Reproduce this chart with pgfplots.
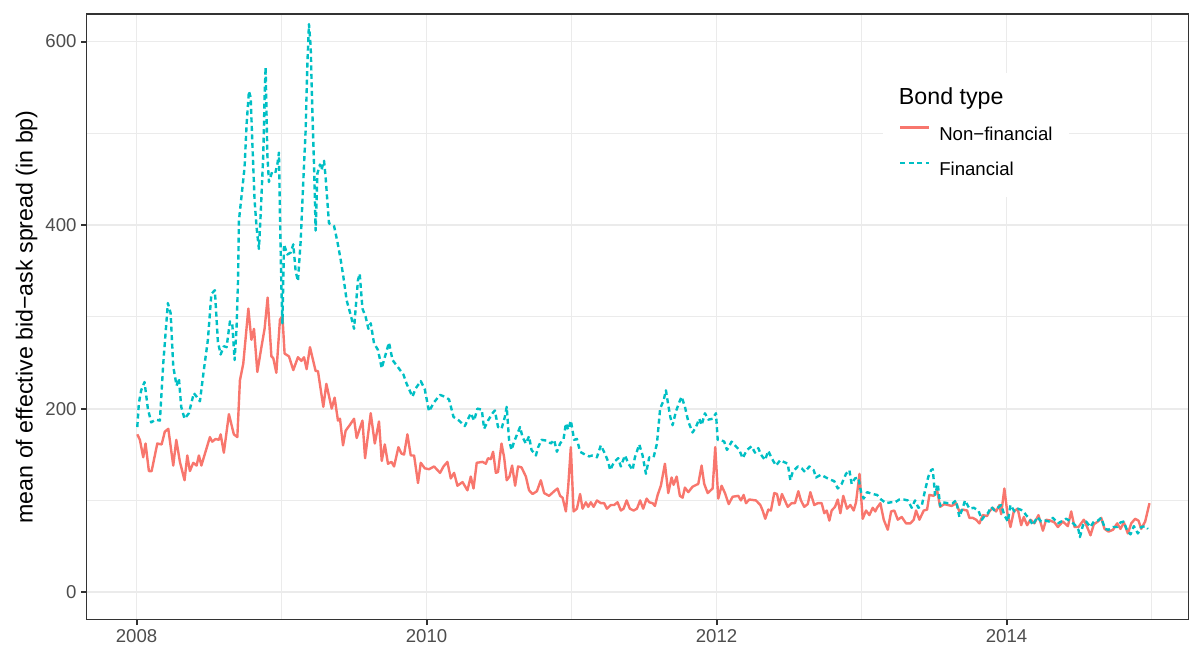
\documentclass[border=0pt]{standalone}
\usepackage{fontspec}
\setmainfont{Liberation Sans}
\usepackage{pgfplots}
\usepackage{pgfplotstable}
\pgfplotsset{compat=1.18}
\definecolor{nonfin}{HTML}{F8766D}
\definecolor{fin}{HTML}{00BFC4}
\definecolor{grid92}{HTML}{EBEBEB}
\definecolor{grey20}{HTML}{333333}
\definecolor{grey30}{HTML}{4D4D4D}

\pgfplotstableread{
x y
2008.005 172
2008.023 166
2008.046 147
2008.062 162
2008.085 132
2008.104 132
2008.143 162
2008.173 161
2008.195 175
2008.219 178
2008.253 138
2008.274 166
2008.299 142
2008.331 122
2008.350 149
2008.368 132
2008.391 141
2008.414 138
2008.430 149
2008.447 138
2008.506 169
2008.522 164
2008.545 167
2008.568 166
2008.580 172
2008.602 152
2008.637 194
2008.671 172
2008.695 169
2008.713 231
2008.736 249
2008.771 309
2008.792 275
2008.810 287
2008.833 240
2008.861 267
2008.883 287
2008.904 321
2008.930 257
2008.943 255
2008.964 239
2008.989 297
2009.006 301
2009.021 260
2009.051 257
2009.081 242
2009.113 256
2009.137 252
2009.155 256
2009.173 243
2009.196 267
2009.235 241
2009.251 241
2009.288 202
2009.309 227
2009.346 200
2009.366 212
2009.389 187
2009.403 189
2009.424 160
2009.442 176
2009.470 182
2009.500 189
2009.518 168
2009.558 187
2009.576 146
2009.615 195
2009.643 162
2009.672 186
2009.691 143
2009.712 161
2009.734 140
2009.758 142
2009.776 137
2009.806 158
2009.827 151
2009.845 150
2009.868 172
2009.891 149
2009.914 149
2009.941 119
2009.960 141
2009.988 135
2010.017 134
2010.052 137
2010.093 130
2010.117 137
2010.144 142
2010.167 124
2010.190 130
2010.213 116
2010.248 120
2010.282 111
2010.305 126
2010.324 113
2010.346 141
2010.386 142
2010.409 140
2010.424 146
2010.443 145
2010.459 153
2010.478 130
2010.493 131
2010.517 162
2010.535 147
2010.553 122
2010.572 126
2010.590 138
2010.611 116
2010.631 137
2010.655 136
2010.685 126
2010.707 111
2010.731 107
2010.761 110
2010.788 122
2010.811 108
2010.845 105
2010.880 110
2010.903 113
2010.921 105
2010.938 103
2010.961 88
2010.977 115
2010.995 158
2011.014 88
2011.037 91
2011.059 107
2011.076 91
2011.099 98
2011.115 93
2011.133 98
2011.152 93
2011.175 100
2011.202 97
2011.225 97
2011.244 91
2011.271 95
2011.294 95
2011.317 98
2011.340 89
2011.359 91
2011.380 100
2011.402 91
2011.428 89
2011.451 91
2011.473 100
2011.494 91
2011.518 102
2011.536 98
2011.559 97
2011.575 94
2011.594 106
2011.616 116
2011.644 140
2011.667 108
2011.690 125
2011.704 117
2011.725 126
2011.747 105
2011.766 103
2011.782 114
2011.805 109
2011.835 115
2011.874 118
2011.897 138
2011.915 118
2011.939 108
2011.973 113
2011.991 158
2012.012 102
2012.035 116
2012.058 108
2012.084 96
2012.111 104
2012.150 105
2012.168 100
2012.187 106
2012.203 97
2012.226 101
2012.272 100
2012.302 95
2012.318 89
2012.336 80
2012.357 90
2012.375 89
2012.398 108
2012.417 107
2012.433 95
2012.451 107
2012.491 93
2012.518 97
2012.541 97
2012.564 110
2012.582 100
2012.605 93
2012.629 96
2012.647 109
2012.674 95
2012.698 97
2012.725 97
2012.743 86
2012.760 89
2012.778 78
2012.794 89
2012.817 93
2012.836 101
2012.854 86
2012.874 105
2012.900 91
2012.923 95
2012.946 89
2012.962 98
2012.986 129
2013.008 80
2013.031 89
2013.054 84
2013.077 92
2013.095 88
2013.107 92
2013.130 97
2013.153 79
2013.181 68
2013.204 88
2013.226 89
2013.250 79
2013.277 82
2013.307 75
2013.337 75
2013.360 79
2013.376 89
2013.399 79
2013.429 89
2013.452 90
2013.468 106
2013.498 105
2013.521 111
2013.542 93
2013.571 96
2013.595 95
2013.622 94
2013.652 97
2013.675 88
2013.698 90
2013.728 89
2013.744 81
2013.767 81
2013.790 79
2013.813 75
2013.836 84
2013.866 83
2013.882 88
2013.905 92
2013.928 88
2013.951 95
2013.963 85
2013.985 113
2014.006 86
2014.027 71
2014.050 88
2014.077 91
2014.101 73
2014.119 82
2014.142 73
2014.165 79
2014.192 75
2014.220 84
2014.251 67
2014.273 79
2014.303 78
2014.331 76
2014.354 71
2014.388 77
2014.423 72
2014.446 88
2014.469 71
2014.496 71
2014.533 79
2014.556 71
2014.579 62
2014.602 74
2014.630 77
2014.653 81
2014.676 69
2014.703 66
2014.734 68
2014.763 75
2014.786 69
2014.809 76
2014.837 64
2014.860 75
2014.887 80
2014.910 78
2014.929 69
2014.956 77
2014.986 97
}\nonfin

\pgfplotstableread{
x y
2008.005 180
2008.016 206
2008.032 220
2008.055 229
2008.078 200
2008.101 185
2008.131 188
2008.161 187
2008.184 249
2008.216 315
2008.235 304
2008.253 246
2008.276 225
2008.292 233
2008.308 202
2008.331 189
2008.361 195
2008.395 217
2008.419 212
2008.437 208
2008.464 242
2008.492 275
2008.516 325
2008.540 329
2008.561 273
2008.580 259
2008.602 268
2008.621 267
2008.644 295
2008.660 293
2008.676 253
2008.690 289
2008.700 340
2008.706 405
2008.723 430
2008.745 463
2008.759 510
2008.775 546
2008.787 539
2008.798 492
2008.814 427
2008.828 397
2008.844 374
2008.856 412
2008.874 477
2008.883 539
2008.890 572
2008.902 477
2008.913 447
2008.937 459
2008.959 458
2008.971 466
2008.982 479
2008.989 412
2008.999 332
2009.006 293
2009.017 379
2009.040 368
2009.063 370
2009.081 379
2009.097 350
2009.113 339
2009.132 383
2009.150 448
2009.166 503
2009.178 575
2009.189 619
2009.201 594
2009.213 521
2009.224 466
2009.235 394
2009.247 456
2009.265 466
2009.275 460
2009.293 470
2009.304 452
2009.327 402
2009.362 399
2009.385 382
2009.408 362
2009.426 344
2009.449 318
2009.477 302
2009.500 287
2009.511 309
2009.527 340
2009.539 347
2009.558 309
2009.580 300
2009.599 287
2009.615 293
2009.638 271
2009.665 264
2009.691 244
2009.712 256
2009.741 272
2009.765 253
2009.799 246
2009.841 237
2009.863 227
2009.903 213
2009.925 222
2009.960 230
2009.988 221
2010.017 197
2010.052 207
2010.093 215
2010.126 213
2010.155 210
2010.186 191
2010.224 187
2010.264 181
2010.305 195
2010.328 187
2010.351 200
2010.381 199
2010.397 178
2010.424 187
2010.455 195
2010.471 198
2010.493 180
2010.517 178
2010.540 191
2010.553 202
2010.569 166
2010.586 155
2010.604 164
2010.622 171
2010.645 180
2010.662 169
2010.685 162
2010.707 170
2010.724 155
2010.754 149
2010.770 158
2010.793 166
2010.834 165
2010.857 162
2010.880 166
2010.899 153
2010.921 162
2010.945 167
2010.961 184
2010.977 177
2010.995 187
2011.018 166
2011.037 167
2011.059 153
2011.092 150
2011.121 148
2011.145 149
2011.175 147
2011.202 160
2011.230 151
2011.253 142
2011.266 133
2011.294 142
2011.322 146
2011.340 137
2011.368 149
2011.393 140
2011.421 133
2011.437 147
2011.467 161
2011.490 149
2011.513 129
2011.536 147
2011.566 147
2011.589 162
2011.611 200
2011.635 209
2011.651 220
2011.667 204
2011.681 191
2011.697 182
2011.720 197
2011.743 207
2011.759 213
2011.782 202
2011.805 186
2011.835 174
2011.858 180
2011.881 189
2011.897 182
2011.920 195
2011.943 188
2011.973 189
2011.996 195
2012.008 166
2012.030 166
2012.053 164
2012.072 155
2012.104 164
2012.127 160
2012.157 155
2012.180 146
2012.210 155
2012.242 159
2012.265 152
2012.288 157
2012.306 150
2012.334 144
2012.357 154
2012.380 146
2012.410 138
2012.440 144
2012.463 142
2012.491 140
2012.509 122
2012.525 131
2012.560 137
2012.587 135
2012.610 131
2012.640 137
2012.670 133
2012.686 125
2012.720 128
2012.743 126
2012.778 123
2012.812 121
2012.836 113
2012.863 118
2012.893 129
2012.916 133
2012.932 118
2012.955 124
2012.978 125
2012.997 109
2013.015 102
2013.038 109
2013.077 107
2013.107 106
2013.135 101
2013.169 97
2013.204 98
2013.231 98
2013.261 101
2013.291 101
2013.319 100
2013.346 92
2013.369 100
2013.392 92
2013.415 94
2013.438 111
2013.461 126
2013.480 133
2013.491 134
2013.507 106
2013.526 118
2013.542 94
2013.560 98
2013.595 97
2013.629 97
2013.652 100
2013.675 82
2013.698 92
2013.714 100
2013.744 91
2013.774 92
2013.806 89
2013.830 79
2013.852 84
2013.871 86
2013.894 93
2013.917 89
2013.940 92
2013.963 95
2013.985 84
2014.009 77
2014.027 95
2014.055 88
2014.078 91
2014.112 89
2014.135 84
2014.158 80
2014.181 73
2014.212 82
2014.239 77
2014.266 78
2014.296 77
2014.320 81
2014.354 75
2014.377 77
2014.411 80
2014.446 77
2014.473 73
2014.496 68
2014.506 60
2014.527 73
2014.549 77
2014.579 71
2014.602 77
2014.630 78
2014.653 81
2014.680 69
2014.703 68
2014.734 71
2014.763 71
2014.786 76
2014.809 77
2014.832 67
2014.855 63
2014.878 72
2014.906 64
2014.929 71
2014.956 72
2014.975 69
}\fin

\begin{document}
\begin{tikzpicture}
\begin{axis}[
  name=ax,
  scale only axis,
  width=1101.5bp, height=605.5bp,
  xmin=2007.655, xmax=2015.255,
  ymin=-30, ymax=630,
  xtick={2008,2010,2012,2014}, xticklabels={2008,2010,2012,2014},
  ytick={0,200,400,600}, yticklabels={0,200,400,600},
  minor xtick={2009,2011,2013,2015},
  minor ytick={100,300,500},
  grid=both,
  major grid style={color=grid92, line width=1.8bp},
  minor grid style={color=grid92, line width=1.0bp},
  axis line style={grey20, line width=1.3bp},
  tick align=outside,
  tick pos=left,
  major tick length=5.3bp,
  minor tick length=0pt,
  tick style={grey20, line width=2bp},
  every tick label/.append style={font=\fontsize{18.6bp}{20bp}\selectfont, text=grey30, inner sep=0pt},
  xticklabel style={yshift=-4bp},
  yticklabel style={xshift=-4.5bp},
  every axis y label/.style={at={(axis description cs:-0.04903,0.5)}, rotate=90, anchor=base, inner sep=0pt, font=\fontsize{23.2bp}{26bp}\selectfont, text=black},
  ylabel={mean of effective bid−ask spread (in bp)},
  legend style={at={(axis description cs:0.7222,0.9026)}, anchor=north west, draw=none, fill=white,
    inner xsep=16.7bp, inner ysep=17.5bp, font=\fontsize{18.6bp}{20bp}\selectfont,
    nodes={inner sep=0pt, text height=14bp, text depth=4bp},
    cells={anchor=west}, row sep=17.5bp,
    /tikz/every odd column/.append style={column sep=8.6bp}},
  legend image code/.code={\path (0bp,0bp); \draw[#1] (0bp,7.6bp) -- (29bp,7.6bp);},
]
\addlegendimage{empty legend}
\addlegendentry{\hspace*{-40.3bp}\fontsize{23.2bp}{26bp}\selectfont Bond type}
\addplot[nonfin, line width=2.4bp, line join=round] table[x=x,y=y] {\nonfin};
\addlegendentry{Non−financial}
\addplot[fin, line width=2.4bp, line join=round, dash pattern=on 5bp off 3.5bp] table[x=x,y=y] {\fin};
\addlegendentry{Financial}
\end{axis}
\pgfresetboundingbox
\path[use as bounding box] ([shift={(-86.5bp,-26.5bp)}]ax.south west) rectangle ([shift={(1.5bp,14bp)}]ax.north east);
\end{tikzpicture}
\end{document}
